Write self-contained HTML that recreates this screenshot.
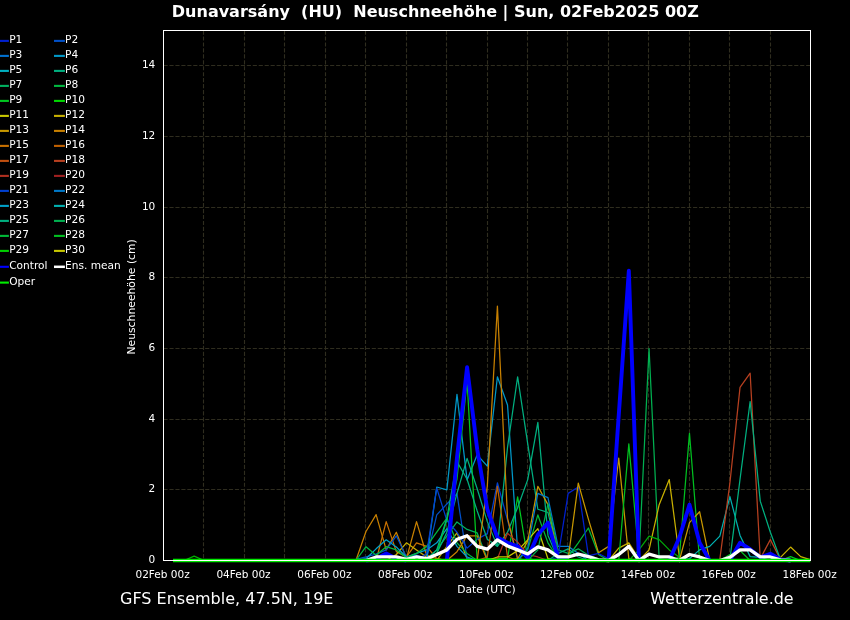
<!DOCTYPE html>
<html lang="de"><head><meta charset="utf-8"><title>GFS Ensemble Dunavarsány Neuschneehöhe</title>
<style>html,body{margin:0;padding:0;background:#000;overflow:hidden}svg{display:block}</style></head>
<body>
<svg width="850" height="620" viewBox="0 0 850 620">
<rect width="850" height="620" fill="#000"/>
<path d="M203.50 30.5V560.5M244.50 30.5V560.5M284.50 30.5V560.5M325.50 30.5V560.5M365.50 30.5V560.5M406.50 30.5V560.5M446.50 30.5V560.5M487.50 30.5V560.5M527.50 30.5V560.5M567.50 30.5V560.5M608.50 30.5V560.5M648.50 30.5V560.5M689.50 30.5V560.5M729.50 30.5V560.5M770.50 30.5V560.5M163.5 489.50H810.5M163.5 419.50H810.5M163.5 348.50H810.5M163.5 277.50H810.5M163.5 207.50H810.5M163.5 136.50H810.5M163.5 65.50H810.5" stroke="#2f2d1f" stroke-width="1.11" stroke-dasharray="4.15 1.8" fill="none"/>
<g fill="none" stroke-linejoin="round" stroke-linecap="butt" clip-path="url(#c)">
<clipPath id="c"><rect x="163.5" y="30.5" width="647.0" height="534.0"/></clipPath>
<path d="M345.77 560.50L355.88 560.50L365.99 531.53L376.10 514.57L386.21 549.90L396.32 532.23L406.43 558.73L416.53 521.63L426.64 555.20L436.75 558.73L446.86 560.50" stroke="#c88000" stroke-width="1.25"/>
<path d="M365.99 560.50L376.10 560.50L386.21 521.63L396.32 551.67L406.43 556.97L416.53 542.83L426.64 546.37L436.75 558.73L446.86 560.50" stroke="#c87000" stroke-width="1.25"/>
<path d="M386.21 560.50L396.32 554.49L406.43 542.83L416.53 549.90L426.64 556.97L436.75 560.50L446.86 546.37L456.97 532.76L467.08 558.73L477.19 560.50" stroke="#c8b000" stroke-width="1.25"/>
<path d="M345.77 560.50L355.88 559.44L365.99 556.97L376.10 554.14L386.21 549.90L396.32 535.77L406.43 556.97L416.53 555.20L426.64 558.73L436.75 514.92L446.86 503.97L456.97 493.72L467.08 558.73L477.19 560.50L487.30 560.50" stroke="#0050c8" stroke-width="1.25"/>
<path d="M355.88 560.50L365.99 558.73L376.10 548.84L386.21 539.83L396.32 547.07L406.43 556.97L416.53 553.43L426.64 549.90L436.75 542.83L446.86 528.70L456.97 546.37L467.08 556.97L477.19 560.50" stroke="#00a0c8" stroke-width="1.25"/>
<path d="M345.77 560.50L355.88 560.50L365.99 546.72L376.10 555.20L386.21 546.72L396.32 549.90L406.43 557.67L416.53 553.43L426.64 546.37L436.75 532.23L446.86 518.10L456.97 542.83L467.08 553.43L477.19 560.50" stroke="#00b840" stroke-width="1.25"/>
<path d="M416.53 560.50L426.64 558.73L436.75 549.90L446.86 535.77L456.97 521.99L467.08 529.41L477.19 532.94L487.30 558.73L497.41 560.50" stroke="#00b060" stroke-width="1.25"/>
<path d="M436.75 560.50L446.86 560.50L456.97 551.67L467.08 535.77L477.19 535.77L487.30 560.50L497.41 560.50" stroke="#c88000" stroke-width="1.25"/>
<path d="M416.53 560.50L426.64 558.73L436.75 487.01L446.86 489.83L456.97 394.43L467.08 479.94L477.19 454.85L487.30 466.16L497.41 376.77L507.52 405.03L517.63 549.90L527.74 558.73L537.85 560.50" stroke="#0098c8" stroke-width="1.25"/>
<path d="M416.53 560.50L426.64 553.43L436.75 488.07L446.86 520.57L456.97 532.23L467.08 548.13L477.19 539.30L487.30 533.65L497.41 482.77L507.52 519.87L517.63 558.73L527.74 560.50" stroke="#0040d0" stroke-width="1.25"/>
<path d="M426.64 560.50L436.75 553.43L446.86 519.87L456.97 479.23L467.08 381.01L477.19 560.50L487.30 558.73L497.41 558.73L507.52 558.73L517.63 496.90L527.74 558.73L537.85 560.50" stroke="#00c820" stroke-width="1.25"/>
<path d="M426.64 560.50L436.75 553.43L446.86 532.23L456.97 493.37L467.08 458.39L477.19 488.77L487.30 521.63L497.41 546.37L507.52 447.43L517.63 376.77L527.74 443.90L537.85 509.27L547.96 512.45L558.07 555.20L568.17 560.50" stroke="#00b080" stroke-width="1.25"/>
<path d="M426.64 560.50L436.75 549.90L446.86 518.10L456.97 461.57L467.08 479.23L477.19 511.03L487.30 539.30L497.41 546.37L507.52 532.23L517.63 507.50L527.74 479.59L537.85 422.35L547.96 535.41L558.07 558.73L568.17 560.50" stroke="#00b080" stroke-width="1.25"/>
<path d="M467.08 560.50L477.19 560.50L487.30 486.30L497.41 306.10L507.52 518.10L517.63 558.73L527.74 560.50" stroke="#c88000" stroke-width="1.25"/>
<path d="M507.52 560.50L517.63 558.73L527.74 541.07L537.85 486.30L547.96 504.67L558.07 555.20L568.17 560.50" stroke="#c89800" stroke-width="1.25"/>
<path d="M477.19 560.50L487.30 556.97L497.41 486.30L507.52 556.97L517.63 560.50" stroke="#c06000" stroke-width="1.25"/>
<path d="M487.30 560.50L497.41 558.73L507.52 533.29L517.63 542.13L527.74 554.49L537.85 556.97L547.96 560.50" stroke="#b03020" stroke-width="1.25"/>
<path d="M517.63 560.50L527.74 549.90L537.85 514.92L547.96 542.83L558.07 558.73L568.17 556.97L578.28 542.83L588.39 527.99L598.50 554.49L608.61 560.50L618.72 560.50" stroke="#00b838" stroke-width="1.25"/>
<path d="M487.30 560.50L497.41 556.97L507.52 556.97L517.63 550.61L527.74 539.83L537.85 528.70L547.96 558.73L558.07 560.50" stroke="#c8c800" stroke-width="1.25"/>
<path d="M517.63 560.50L527.74 548.13L537.85 493.37L547.96 497.61L558.07 546.37L568.17 546.37L578.28 553.43L588.39 560.50L598.50 560.50" stroke="#0078c8" stroke-width="1.25"/>
<path d="M527.74 560.50L537.85 549.90L547.96 503.97L558.07 549.90L568.17 553.43L578.28 548.84L588.39 555.20L598.50 558.73L608.61 560.50" stroke="#00b050" stroke-width="1.25"/>
<path d="M547.96 560.50L558.07 553.43L568.17 548.84L578.28 556.97L588.39 560.50" stroke="#00b080" stroke-width="1.25"/>
<path d="M547.96 560.50L558.07 556.97L568.17 493.37L578.28 487.01L588.39 555.91L598.50 553.43L608.61 558.73L618.72 560.50" stroke="#0020d0" stroke-width="1.25"/>
<path d="M558.07 560.50L568.17 558.73L578.28 483.12L588.39 519.16L598.50 552.73L608.61 546.37L618.72 458.03L628.83 558.73L638.94 560.50" stroke="#c89800" stroke-width="1.25"/>
<path d="M598.50 560.50L608.61 560.50L618.72 548.13L628.83 542.83L638.94 558.73L649.05 560.50" stroke="#c8b000" stroke-width="1.25"/>
<path d="M608.61 560.50L618.72 560.50L628.83 443.90L638.94 556.97L649.05 560.50" stroke="#00c020" stroke-width="1.25"/>
<path d="M628.83 560.50L638.94 558.73L649.05 348.50L659.16 558.73L669.27 560.50" stroke="#00b050" stroke-width="1.25"/>
<path d="M638.94 560.50L649.05 549.90L659.16 504.67L669.27 479.59L679.38 556.97L689.49 560.50" stroke="#c8b000" stroke-width="1.25"/>
<path d="M628.83 560.50L638.94 549.90L649.05 536.12L659.16 539.65L669.27 549.90L679.38 557.32L689.49 560.50" stroke="#00a808" stroke-width="1.25"/>
<path d="M669.27 560.50L679.38 556.97L689.49 433.30L699.60 560.50L709.71 560.50" stroke="#00c020" stroke-width="1.25"/>
<path d="M669.27 560.50L679.38 560.50L689.49 522.69L699.60 511.74L709.71 560.50L719.82 560.50" stroke="#c89800" stroke-width="1.25"/>
<path d="M679.38 560.50L689.49 558.73L699.60 549.90L709.71 546.37L719.82 536.12L729.92 496.55L740.03 535.41L750.14 556.61L760.25 557.32L770.36 560.50" stroke="#00b0b0" stroke-width="1.25"/>
<path d="M709.71 560.50L719.82 559.44L729.92 482.77L740.03 387.37L750.14 373.23L760.25 558.73L770.36 539.65L780.47 559.44L790.58 560.50" stroke="#b84020" stroke-width="1.25"/>
<path d="M719.82 560.50L729.92 559.44L740.03 479.23L750.14 401.50L760.25 501.14L770.36 532.23L780.47 559.44L790.58 560.50" stroke="#00b080" stroke-width="1.25"/>
<path d="M770.36 560.50L780.47 557.32L790.58 547.07L800.69 556.61L810.80 559.79" stroke="#c8b000" stroke-width="1.25"/>
<path d="M770.36 560.50L780.47 560.50L790.58 556.61L800.69 560.50L810.80 560.50" stroke="#00c820" stroke-width="1.25"/>
<path d="M719.82 560.50L729.92 554.49L740.03 550.61L750.14 560.50L760.25 560.50" stroke="#00c020" stroke-width="1.25"/>
<path d="M173.91 560.50L184.02 560.50L194.13 556.08L204.24 560.50L214.35 560.50" stroke="#00b000" stroke-width="1.25"/>
<path d="M365.99 560.50L376.10 558.73L386.21 553.43L396.32 558.73L406.43 560.50M446.86 560.50L456.97 458.03L467.08 367.23L477.19 449.20L487.30 509.27L497.41 537.53L507.52 542.83L517.63 546.37L527.74 558.03L537.85 534.71L547.96 522.69L558.07 557.67L568.17 560.50M608.61 560.50L618.72 415.63L628.83 270.77L638.94 560.50M669.27 560.50L679.38 537.53L689.49 504.67L699.60 542.83L709.71 560.50M729.92 560.50L740.03 542.83L750.14 549.19L760.25 557.32L770.36 553.79L780.47 559.44L790.58 560.50" stroke="#0000ff" stroke-width="3.9"/>
<path d="M365.99 560.50L376.10 556.97L386.21 556.97L396.32 556.97L406.43 559.44L416.53 556.97L426.64 558.73L436.75 554.49L446.86 549.90L456.97 539.30L467.08 535.77L477.19 546.37L487.30 549.19L497.41 539.83L507.52 546.01L517.63 549.90L527.74 553.96L537.85 546.90L547.96 549.90L558.07 556.97L568.17 556.97L578.28 554.14L588.39 556.61L598.50 559.79L608.61 560.50L618.72 554.49L628.83 546.37L638.94 560.50L649.05 554.14L659.16 556.97L669.27 556.97L679.38 560.50L689.49 554.49L699.60 556.97L709.71 560.50M719.82 560.50L729.92 557.32L740.03 549.90L750.14 549.90L760.25 556.97L770.36 556.97L780.47 559.79L790.58 560.50" stroke="#ffffff" stroke-width="3.3"/>
<path d="M173 560.5H810.5" stroke="#00e800" stroke-width="3.5"/>
</g>
<rect x="163.5" y="30.5" width="647.0" height="530.0" stroke="#fff" stroke-width="1" fill="none"/>
<g fill="#fff" font-family="'DejaVu Sans', 'Liberation Sans', sans-serif">
<text x="435.3" y="17.1" font-size="16" font-weight="bold" text-anchor="middle" xml:space="preserve">Dunavarsány  (HU)  Neuschneehöhe | Sun, 02Feb2025 00Z</text>
<text x="155.3" y="563.0" font-size="10.5" text-anchor="end">0</text>
<text x="155.3" y="492.3" font-size="10.5" text-anchor="end">2</text>
<text x="155.3" y="421.7" font-size="10.5" text-anchor="end">4</text>
<text x="155.3" y="351.0" font-size="10.5" text-anchor="end">6</text>
<text x="155.3" y="280.3" font-size="10.5" text-anchor="end">8</text>
<text x="155.3" y="209.7" font-size="10.5" text-anchor="end">10</text>
<text x="155.3" y="139.0" font-size="10.5" text-anchor="end">12</text>
<text x="155.3" y="68.3" font-size="10.5" text-anchor="end">14</text>
<text x="162.6" y="577.9" font-size="10.5" text-anchor="middle">02Feb 00z</text>
<text x="243.5" y="577.9" font-size="10.5" text-anchor="middle">04Feb 00z</text>
<text x="324.4" y="577.9" font-size="10.5" text-anchor="middle">06Feb 00z</text>
<text x="405.2" y="577.9" font-size="10.5" text-anchor="middle">08Feb 00z</text>
<text x="486.1" y="577.9" font-size="10.5" text-anchor="middle">10Feb 00z</text>
<text x="567.0" y="577.9" font-size="10.5" text-anchor="middle">12Feb 00z</text>
<text x="647.9" y="577.9" font-size="10.5" text-anchor="middle">14Feb 00z</text>
<text x="728.7" y="577.9" font-size="10.5" text-anchor="middle">16Feb 00z</text>
<text x="809.6" y="577.9" font-size="10.5" text-anchor="middle">18Feb 00z</text>
<text x="486.4" y="592.7" font-size="10.7" text-anchor="middle">Date (UTC)</text>
<text transform="translate(134.8 296.9) rotate(-90)" font-size="10.8" text-anchor="middle">Neuschneehöhe (cm)</text>
<text x="120" y="604.3" font-size="16">GFS Ensemble, 47.5N, 19E</text>
<text x="793.6" y="604.3" font-size="15.92" text-anchor="end">Wetterzentrale.de</text>
<path d="M0 40.9H8.9" stroke="#0020d0" stroke-width="2.1"/>
<text x="9.2" y="43.1" font-size="10.6">P1</text>
<path d="M54 40.9H64.9" stroke="#0050c8" stroke-width="2.1"/>
<text x="65.0" y="43.1" font-size="10.6">P2</text>
<path d="M0 55.9H8.9" stroke="#0070d0" stroke-width="2.1"/>
<text x="9.2" y="58.1" font-size="10.6">P3</text>
<path d="M54 55.9H64.9" stroke="#0098c8" stroke-width="2.1"/>
<text x="65.0" y="58.1" font-size="10.6">P4</text>
<path d="M0 70.9H8.9" stroke="#00b0c0" stroke-width="2.1"/>
<text x="9.2" y="73.1" font-size="10.6">P5</text>
<path d="M54 70.9H64.9" stroke="#00b080" stroke-width="2.1"/>
<text x="65.0" y="73.1" font-size="10.6">P6</text>
<path d="M0 85.9H8.9" stroke="#00b060" stroke-width="2.1"/>
<text x="9.2" y="88.1" font-size="10.6">P7</text>
<path d="M54 85.9H64.9" stroke="#00b840" stroke-width="2.1"/>
<text x="65.0" y="88.1" font-size="10.6">P8</text>
<path d="M0 100.9H8.9" stroke="#00c820" stroke-width="2.1"/>
<text x="9.2" y="103.1" font-size="10.6">P9</text>
<path d="M54 100.9H64.9" stroke="#00d800" stroke-width="2.1"/>
<text x="65.0" y="103.1" font-size="10.6">P10</text>
<path d="M0 115.9H8.9" stroke="#c8c800" stroke-width="2.1"/>
<text x="9.2" y="118.1" font-size="10.6">P11</text>
<path d="M54 115.9H64.9" stroke="#c8b000" stroke-width="2.1"/>
<text x="65.0" y="118.1" font-size="10.6">P12</text>
<path d="M0 130.9H8.9" stroke="#c89800" stroke-width="2.1"/>
<text x="9.2" y="133.1" font-size="10.6">P13</text>
<path d="M54 130.9H64.9" stroke="#c88000" stroke-width="2.1"/>
<text x="65.0" y="133.1" font-size="10.6">P14</text>
<path d="M0 145.9H8.9" stroke="#c87000" stroke-width="2.1"/>
<text x="9.2" y="148.1" font-size="10.6">P15</text>
<path d="M54 145.9H64.9" stroke="#c06000" stroke-width="2.1"/>
<text x="65.0" y="148.1" font-size="10.6">P16</text>
<path d="M0 160.9H8.9" stroke="#c05010" stroke-width="2.1"/>
<text x="9.2" y="163.1" font-size="10.6">P17</text>
<path d="M54 160.9H64.9" stroke="#b84020" stroke-width="2.1"/>
<text x="65.0" y="163.1" font-size="10.6">P18</text>
<path d="M0 175.9H8.9" stroke="#b03020" stroke-width="2.1"/>
<text x="9.2" y="178.1" font-size="10.6">P19</text>
<path d="M54 175.9H64.9" stroke="#a02020" stroke-width="2.1"/>
<text x="65.0" y="178.1" font-size="10.6">P20</text>
<path d="M0 190.9H8.9" stroke="#0040d0" stroke-width="2.1"/>
<text x="9.2" y="193.1" font-size="10.6">P21</text>
<path d="M54 190.9H64.9" stroke="#0078c8" stroke-width="2.1"/>
<text x="65.0" y="193.1" font-size="10.6">P22</text>
<path d="M0 205.9H8.9" stroke="#00a0c8" stroke-width="2.1"/>
<text x="9.2" y="208.1" font-size="10.6">P23</text>
<path d="M54 205.9H64.9" stroke="#00b0b0" stroke-width="2.1"/>
<text x="65.0" y="208.1" font-size="10.6">P24</text>
<path d="M0 220.9H8.9" stroke="#00b080" stroke-width="2.1"/>
<text x="9.2" y="223.1" font-size="10.6">P25</text>
<path d="M54 220.9H64.9" stroke="#00b050" stroke-width="2.1"/>
<text x="65.0" y="223.1" font-size="10.6">P26</text>
<path d="M0 235.9H8.9" stroke="#00b838" stroke-width="2.1"/>
<text x="9.2" y="238.1" font-size="10.6">P27</text>
<path d="M54 235.9H64.9" stroke="#00c020" stroke-width="2.1"/>
<text x="65.0" y="238.1" font-size="10.6">P28</text>
<path d="M0 250.9H8.9" stroke="#00d000" stroke-width="2.1"/>
<text x="9.2" y="253.1" font-size="10.6">P29</text>
<path d="M54 250.9H64.9" stroke="#c8c800" stroke-width="2.1"/>
<text x="65.0" y="253.1" font-size="10.6">P30</text>
<path d="M0 266.8H8.9" stroke="#0000ff" stroke-width="2.1"/><text x="9.2" y="269.0" font-size="10.6">Control</text>
<path d="M54 266.8H64.9" stroke="#fff" stroke-width="2.5"/><text x="65.0" y="269.0" font-size="10.6">Ens. mean</text>
<path d="M0 282.6H8.9" stroke="#00ee00" stroke-width="2.1"/><text x="9.2" y="284.8" font-size="10.6">Oper</text>
</g>
</svg>
</body></html>
